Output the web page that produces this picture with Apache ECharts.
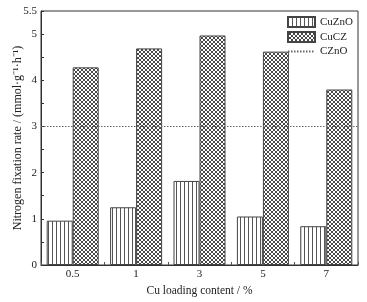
<!DOCTYPE html>
<html>
<head>
<meta charset="utf-8">
<script src="https://cdn.jsdelivr.net/npm/echarts@6/dist/echarts.min.js"></script>
<style>
html,body{margin:0;padding:0;background:#fff;}
#chart{width:367px;height:302px;}
</style>
</head>
<body>
<div id="chart"></div>
<script>
var categories = ['0.5', '1', '3', '5', '7'];
var cuZnO = [0.96, 1.25, 1.82, 1.05, 0.84];
var cuCZ = [4.28, 4.69, 4.97, 4.62, 3.80];
var cZnO = 3;
var yTickLabels = ['0', '1', '2', '3', '4', '5', '5.5'];

function stripePattern() {
  var c = document.createElement('canvas');
  c.width = 4; c.height = 4;
  var ctx = c.getContext('2d');
  ctx.fillStyle = '#fff'; ctx.fillRect(0, 0, 4, 4);
  ctx.fillStyle = '#555'; ctx.fillRect(0, 0, 1, 4);
  return c;
}
function crossPattern() {
  var s = 4;
  var c = document.createElement('canvas');
  c.width = s; c.height = s;
  var ctx = c.getContext('2d');
  ctx.fillStyle = '#fff'; ctx.fillRect(0, 0, s, s);
  ctx.strokeStyle = '#333'; ctx.lineWidth = 0.9;
  ctx.beginPath();
  ctx.moveTo(-1, -1); ctx.lineTo(s + 1, s + 1);
  ctx.moveTo(s + 1, -1); ctx.lineTo(-1, s + 1);
  ctx.stroke();
  return c;
}

var font = 'Liberation Serif';
var chart = echarts.init(document.getElementById('chart'), null, {renderer: 'canvas'});
chart.setOption({
  animation: false,
  backgroundColor: '#fff',
  textStyle: {fontFamily: font, color: '#222'},
  grid: {left: 41, right: 9, top: 11, bottom: 37, show: true, borderColor: '#333', borderWidth: 1,
         containLabel: false, outerBoundsMode: 'none'},
  legend: {
    orient: 'vertical', right: 14, top: 16, padding: 0, itemWidth: 27, itemHeight: 10, itemGap: 3,
    align: 'left',
    textStyle: {fontFamily: font, fontSize: 11, color: '#222'},
    data: [
      {name: 'CuZnO', icon: 'rect'},
      {name: 'CuCZ', icon: 'rect'},
      {name: 'CZnO', itemStyle: {opacity: 0}}
    ]
  },
  xAxis: {
    type: 'category', data: categories,
    name: 'Cu loading content / %', nameLocation: 'middle', nameGap: 18,
    nameTextStyle: {fontFamily: font, fontSize: 11.5, color: '#222'},
    axisLine: {lineStyle: {color: '#333'}},
    axisTick: {show: true, inside: true, length: 3, lineStyle: {color: '#555'}},
    axisLabel: {fontFamily: font, fontSize: 11, color: '#222', margin: 4}
  },
  yAxis: {
    type: 'value', min: 0, max: 5.5, interval: 0.5,
    name: 'Nitrogen fixation rate / (mmol\u00b7g\u207b\u00b9\u00b7h\u207b\u00b9)',
    nameLocation: 'middle', nameGap: 17, nameRotate: 90, nameMoveOverlap: false,
    nameTextStyle: {fontFamily: font, fontSize: 12, color: '#222'},
    splitLine: {show: false},
    axisLine: {show: true, lineStyle: {color: '#333'}},
    axisTick: {show: true, inside: true, length: 3, lineStyle: {color: '#333'}},
    axisLabel: {
      fontFamily: font, fontSize: 11, color: '#222', margin: 4,
      formatter: function (v) {
        var s = String(Math.round(v * 10) / 10);
        return yTickLabels.indexOf(s) >= 0 ? s : '';
      }
    }
  },
  series: [
    {
      name: 'CuZnO', type: 'bar', data: cuZnO, barWidth: 26, barGap: '0%',
      itemStyle: {color: {image: stripePattern(), repetition: 'repeat'}, borderColor: '#444', borderWidth: 1}
    },
    {
      name: 'CuCZ', type: 'bar', data: cuCZ, barWidth: 26, barGap: '0%',
      itemStyle: {color: {image: crossPattern(), repetition: 'repeat'}, borderColor: '#444', borderWidth: 1}
    },
    {
      name: 'CZnO', type: 'line', data: [], symbol: 'none', showSymbol: false,
      lineStyle: {color: '#666', type: [1.5, 1.5], width: 1},
      itemStyle: {color: '#666'},
      markLine: {
        silent: true, symbol: 'none', label: {show: false},
        lineStyle: {color: '#666', type: [1.5, 1.5], width: 1},
        data: [{yAxis: cZnO}]
      }
    }
  ]
});
</script>
</body>
</html>
